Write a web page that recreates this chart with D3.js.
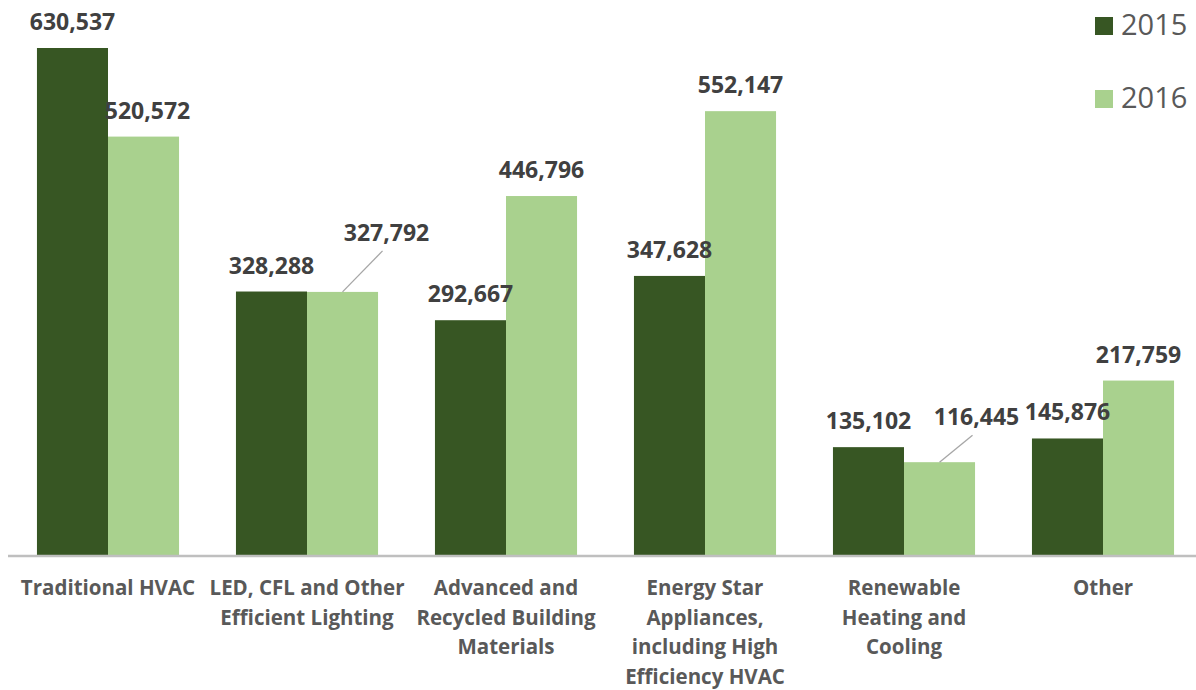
<!DOCTYPE html>
<html>
<head>
<meta charset="utf-8">
<script src="https://cdn.jsdelivr.net/npm/d3@7"></script>
<style>
  html, body { margin: 0; padding: 0; background: #ffffff; }
  svg { display: block; }
</style>
</head>
<body>
<svg id="chart" width="1196" height="690"></svg>
<script>
// Categories, with each label split into its display lines
const categories = [
  "Traditional HVAC",
  "LED, CFL and Other Efficient Lighting",
  "Advanced and Recycled Building Materials",
  "Energy Star Appliances, including High Efficiency HVAC",
  "Renewable Heating and Cooling",
  "Other"
];
const categoryLines = [
  ["Traditional HVAC"],
  ["LED, CFL and Other", "Efficient Lighting"],
  ["Advanced and", "Recycled Building", "Materials"],
  ["Energy Star", "Appliances,", "including High", "Efficiency HVAC"],
  ["Renewable", "Heating and", "Cooling"],
  ["Other"]
];
const seriesNames = ["2015", "2016"];
const values2015 = [630537, 328288, 292667, 347628, 135102, 145876];
const values2016 = [520572, 327792, 446796, 552147, 116445, 217759];

const colors = { "2015": "#375623", "2016": "#a9d18e" };

const svg = d3.select("#chart");
const baseY = 556;

const x0 = d3.scaleBand().domain(categories).range([8.5, 1202.5]).paddingInner(0.286).paddingOuter(0.143);
const x1 = d3.scaleBand().domain(seriesNames).range([0, x0.bandwidth()]);
const y = d3.scaleLinear().domain([0, 700000]).range([baseY, baseY - 700000 * 508 / 630537]);

const rows = categories.map((c, i) => ({
  cat: c,
  vals: [
    { s: "2015", v: values2015[i] },
    { s: "2016", v: values2016[i] }
  ]
}));

// Bars
const groups = svg.append("g").selectAll("g").data(rows).join("g")
  .attr("transform", d => `translate(${x0(d.cat)},0)`);
groups.selectAll("rect").data(d => d.vals).join("rect")
  .attr("x", d => x1(d.s))
  .attr("y", d => y(d.v))
  .attr("width", x1.bandwidth())
  .attr("height", d => y(0) - y(d.v))
  .attr("fill", d => colors[d.s]);

// Baseline axis
const axis = d3.axisBottom(x0).tickSize(0).tickFormat("");
const axisG = svg.append("g").attr("transform", `translate(0,${baseY})`).call(axis);
axisG.select(".domain").attr("stroke", "#bfbfbf").attr("stroke-width", 2.5).attr("d", "M8,0H1196");

// Category labels
const fmt = d3.format(",");
const labelG = svg.append("g");
categories.forEach((c, i) => {
  const t = labelG.append("text")
    .attr("x", x0(c) + x0.bandwidth() / 2)
    .attr("y", 595)
    .attr("text-anchor", "middle")
    .attr("font-family", "'Open Sans', sans-serif")
    .attr("font-weight", "bold")
    .attr("font-size", 20.5)
    .attr("fill", "#595959");
  categoryLines[i].forEach((ln, j) => {
    t.append("tspan").attr("x", x0(c) + x0.bandwidth() / 2).attr("dy", j === 0 ? 0 : 29.5).text(ln);
  });
});

// Value labels; some are shifted aside with a leader line
const offsets = {
  "2015": [[0, 0], [0, 0], [0, 0], [0, 0], [0, 0], [0, 0]],
  "2016": [[4, 0], [0, 0], [0, 0], [0, 0], [0, 0], [0, 0]]
};
const leaders = {
  "LED, CFL and Other Efficient Lighting": { dx: 40, dy: -51 },
  "Renewable Heating and Cooling": { dx: 33, dy: -37 }
};
rows.forEach((r, i) => {
  r.vals.forEach(d => {
    const cx = x0(r.cat) + x1(d.s) + x1.bandwidth() / 2;
    const top = y(d.v);
    const lead = d.s === "2016" ? leaders[r.cat] : null;
    let lx = cx + offsets[d.s][i][0];
    let ly = top - 18;
    if (lead) {
      svg.append("line")
        .attr("x1", cx).attr("y1", top)
        .attr("x2", cx + lead.dx).attr("y2", top + lead.dy + 10)
        .attr("stroke", "#a6a6a6").attr("stroke-width", 1.3);
      lx = cx + lead.dx + 4;
      ly = top + lead.dy;
    }
    svg.append("text")
      .attr("x", lx).attr("y", ly)
      .attr("text-anchor", "middle")
      .attr("font-family", "'Open Sans', sans-serif")
      .attr("font-weight", "bold")
      .attr("font-size", 23)
      .attr("fill", "#404040")
      .text(fmt(d.v));
  });
});

// Legend
const legend = svg.append("g");
seriesNames.forEach((s, i) => {
  const ly = 17 + i * 73;
  legend.append("rect").attr("x", 1095).attr("y", ly).attr("width", 18).attr("height", 18).attr("fill", colors[s]);
  legend.append("text")
    .attr("x", 1121).attr("y", ly + 18)
    .attr("font-family", "'Open Sans', sans-serif")
    .attr("font-size", 29)
    .attr("fill", "#595959")
    .text(s);
});
</script>
</body>
</html>
